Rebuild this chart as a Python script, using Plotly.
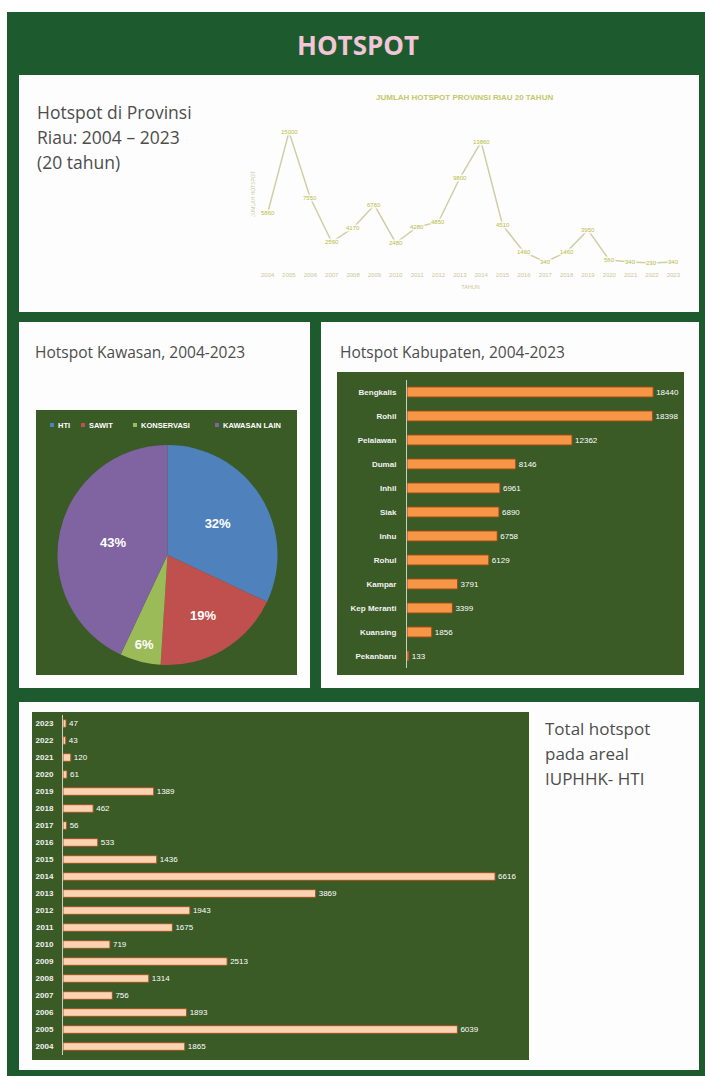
import plotly.graph_objects as go

W, H = 705, 1076

# ---- data -------------------------------------------------------------
years = [str(y) for y in range(2004, 2024)]
provinsi_hotspot = [5860, 15000, 7550, 2590, 4170, 6760, 2480, 4280, 4850, 9800,
                    13860, 4510, 1460, 340, 1460, 3950, 560, 340, 230, 340]

kawasan_labels = ["HTI", "SAWIT", "KONSERVASI", "KAWASAN LAIN"]
kawasan_pct = [32, 19, 6, 43]
kawasan_colors = ["#4f81bd", "#c0504d", "#9bbb59", "#8064a2"]

kabupaten = ["Bengkalis", "Rohil", "Pelalawan", "Dumai", "Inhil", "Siak",
             "Inhu", "Rohul", "Kampar", "Kep Meranti", "Kuansing", "Pekanbaru"]
kabupaten_hotspot = [18440, 18398, 12362, 8146, 6961, 6890, 6758, 6129,
                     3791, 3399, 1856, 133]

hti_years = years
hti_hotspot = [1865, 6039, 1893, 756, 1314, 2513, 719, 1675, 1943, 3869,
               6616, 1436, 533, 56, 462, 1389, 61, 120, 43, 47]

# ---- styling ----------------------------------------------------------
FRAME = "#1d5a2e"
PANEL = "#fdfdfd"
CHART_BG = "#3a5a26"
GREY_TXT = "#4d4d4d"
TEXT_FONT = "Open Sans"
SMALL_FONT = "Liberation Sans"


def px(x):
    return x / W


def py(y):
    return 1 - y / H


def rect(x0, y0, x1, y1, color):
    return dict(type="rect", xref="paper", yref="paper",
                x0=px(x0), x1=px(x1), y0=py(y1), y1=py(y0),
                fillcolor=color, line=dict(width=0), layer="below")


def label(x, y, text, size, color=GREY_TXT, family=TEXT_FONT, anchor="left", **kw):
    return dict(xref="paper", yref="paper", x=px(x), y=py(y), text=text,
                showarrow=False, xanchor=anchor, yanchor="middle",
                font=dict(size=size, color=color, family=family), **kw)


fig = go.Figure()

# line chart: provincial hotspots over 20 years
fig.add_trace(go.Scatter(
    x=years, y=provinsi_hotspot, mode="lines", xaxis="x", yaxis="y",
    line=dict(color="#cfcfa4", width=1.5), hoverinfo="x+y"))

# pie: hotspots by land-use zone
fig.add_trace(go.Pie(
    labels=kawasan_labels, values=kawasan_pct, sort=False, direction="clockwise",
    rotation=0, marker=dict(colors=kawasan_colors, line=dict(width=0)),
    texttemplate="%{value}%", textposition="inside", insidetextorientation="horizontal",
    textfont=dict(color="white", size=13, family=SMALL_FONT, weight="bold"),
    domain=dict(x=[px(57), px(278)], y=[py(665), py(445)])))

# horizontal bars: hotspots per regency
fig.add_trace(go.Bar(
    x=kabupaten_hotspot, y=kabupaten, orientation="h", xaxis="x2", yaxis="y2",
    width=0.42, marker=dict(color="#f79646", line=dict(color="#9a4b16", width=1)),
    text=kabupaten_hotspot, textposition="outside", constraintext="none",
    cliponaxis=False,
    textfont=dict(color="white", size=8, family=SMALL_FONT)))

# horizontal bars: hotspots in HTI concessions per year
fig.add_trace(go.Bar(
    x=hti_hotspot, y=hti_years, orientation="h", xaxis="x3", yaxis="y3",
    width=0.45, marker=dict(color="#fbd3b2", line=dict(color="#a0521e", width=1)),
    text=hti_hotspot, textposition="outside", constraintext="none",
    cliponaxis=False,
    textfont=dict(color="white", size=8, family=SMALL_FONT)))

shapes = [
    rect(7, 12, 705, 1076, FRAME),
    rect(19, 75, 699, 312, PANEL),
    rect(19, 322, 310, 688, PANEL),
    rect(321, 322, 699, 688, PANEL),
    rect(19, 702, 699, 1070, PANEL),
    rect(36, 410, 297, 675, CHART_BG),
    rect(337, 372, 684, 675, CHART_BG),
    rect(32, 712, 529, 1060, CHART_BG),
]

annotations = [
    label(358, 45, "<b>HOTSPOT</b>", 26, color="#f2c5d7", anchor="center"),
    label(35, 112, "Hotspot di Provinsi", 17.5),
    label(35, 137, "Riau: 2004 – 2023", 17.5),
    label(35, 162, "(20 tahun)", 17.5),
    label(465, 97, "<b>JUMLAH HOTSPOT PROVINSI RIAU 20 TAHUN</b>", 8,
          color="#c3c86a", family=SMALL_FONT, anchor="center"),
    label(33, 352, "Hotspot Kawasan, 2004-2023", 15.5),
    label(338, 352, "Hotspot Kabupaten, 2004-2023", 15.5),
    label(543, 728, "Total hotspot", 17),
    label(543, 753, "pada areal", 17),
    label(543, 778, "IUPHHK- HTI", 17),
]

# value labels on the provincial line, boxed so they sit over the line
# (category axes take the serial index of each year)
for i, v in enumerate(provinsi_hotspot):
    annotations.append(dict(
        x=i, y=v, xref="x", yref="y", text=str(v), showarrow=False,
        bgcolor="rgba(253,253,253,0.85)", borderpad=0,
        font=dict(size=6, color="#b9bc48", family=SMALL_FONT)))

# manual legend row for the pie
legend_sq = [52, 83, 135, 217]
for name, color, x in zip(kawasan_labels, kawasan_colors, legend_sq):
    shapes.append(dict(type="rect", xref="paper", yref="paper",
                       x0=px(x - 2), x1=px(x + 2), y0=py(427), y1=py(423),
                       fillcolor=color, line=dict(width=0)))
    annotations.append(label(x + 4, 425, f"<b>{name}</b>", 7.5,
                             color="white", family=SMALL_FONT))

fig.update_layout(
    width=W, height=H, margin=dict(l=0, r=0, t=0, b=0),
    paper_bgcolor="white", plot_bgcolor="rgba(0,0,0,0)", showlegend=False,
    shapes=shapes, annotations=annotations,
    xaxis=dict(domain=[px(257), px(684)], type="category", range=[-0.5, 19.5],
               showgrid=False, showline=False, ticks="", ticklabelstandoff=5,
               tickfont=dict(size=6, color="#c9c99c", family=SMALL_FONT),
               title=dict(text="TAHUN", font=dict(size=5.5, color="#c9c99c",
                                                   family=SMALL_FONT), standoff=8)),
    yaxis=dict(domain=[py(265), py(123)], range=[0, 16000], tickvals=[0],
               showticklabels=False, showgrid=True, griddash="dot",
               gridcolor="#d8d8bc", zeroline=False,
               title=dict(text="JUMLAH HOTSPOT", font=dict(size=5, color="#c9c99c",
                                                            family=SMALL_FONT),
                          standoff=0)),
    xaxis2=dict(domain=[px(407), px(684)], range=[0, 20750], visible=False),
    yaxis2=dict(domain=[py(668), py(380)], anchor="x2", type="category",
                range=[11.5, -0.5], showline=True, linecolor="#c9cfc0", linewidth=1,
                showgrid=False, ticks="", ticklabelstandoff=8,
                tickfont=dict(size=8, color="#f2f2f2", family=SMALL_FONT, weight="bold")),
    xaxis3=dict(domain=[px(63), px(528)], range=[0, 7120], visible=False),
    yaxis3=dict(domain=[py(1055), py(715)], anchor="x3", type="category",
                range=[-0.5, 19.5], showline=True, linecolor="#c9cfc0", linewidth=1,
                showgrid=False, ticks="", ticklabelstandoff=7,
                tickfont=dict(size=8, color="#f2f2f2", family=SMALL_FONT, weight="bold")),
)

fig.write_html("out.html")
